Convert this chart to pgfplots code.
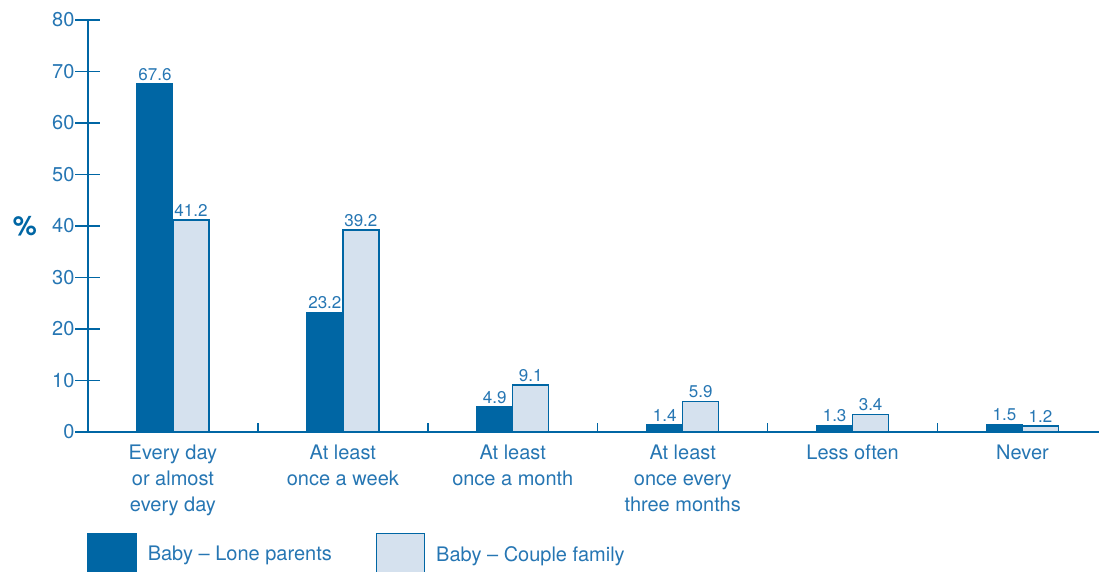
\documentclass[border=0pt]{standalone}
\usepackage{pgfplots}
\pgfplotsset{compat=1.18}
\usepackage{fontspec}
\setmainfont{TeX Gyre Heros}
\definecolor{dblue}{HTML}{0066A4}
\definecolor{lblue}{HTML}{D5E1EE}
\definecolor{tblue}{HTML}{2676B3}
\pgfplotsset{boxlegend/.style={legend image code/.code={\draw[##1, line width=0.7pt] (0pt,-13pt) rectangle (24pt,11pt);}}}
\begin{document}
\begin{tikzpicture}
\begin{axis}[
  at={(0,0)}, anchor=south west,
  scale only axis, width=505.5pt, height=206pt,
  xmin=-0.5, xmax=5.45, ymin=0, ymax=80,
  axis x line*=bottom, axis y line*=left,
  axis line style={draw=dblue, line width=1.25pt, -},
  /pgf/number format/assume math mode=true,
  ytick={0,10,...,80},
  ytick style={draw=dblue, line width=0.7pt},
  ytick align=center,
  major tick length=12.5pt,
  yticklabel style={font=\fontsize{10}{12}\selectfont, text=tblue, xshift=3pt},
  xtick={0,...,5},
  xtick style={draw=none},
  xticklabels={{Every day\\or almost\\every day},{At least\\once a week},{At least\\once a month},{At least\\once every\\three months},{Less often},{Never}},
  xticklabel style={font=\fontsize{10}{12.9}\selectfont, text=tblue, align=center, anchor=north, yshift=9.5pt},
  extra x ticks={0.5,1.5,2.5,3.5,4.5},
  extra x tick labels={},
  extra x tick style={xtick style={draw=dblue, line width=0.7pt}, major tick length=4.5pt, tick align=inside},
  ylabel={\%},
  ylabel style={rotate=-90, at={(axis description cs:0,0.5)}, anchor=center, xshift=-31.5pt, font=\bfseries\fontsize{13.5}{14}\selectfont, text=dblue},
  ybar=0pt, bar width=18pt,
  nodes near coords={\pgfmathprintnumber[fixed,fixed zerofill,precision=1,assume math mode=true]{\pgfplotspointmeta}},
  nodes near coords style={font=\fontsize{8.5}{10}\selectfont, text=tblue, inner sep=1.5pt},
  clip=false,
  legend columns=2,
  legend style={at={(-0.001,-0.243)}, anchor=north west, draw=none, fill=none, inner sep=0pt,
    font=\fontsize{10}{12}\selectfont, text=tblue,
    /tikz/every odd column/.append style={column sep=3.5pt},
    /tikz/every even column/.append style={column sep=20pt}},
  legend cell align=left,
]
\addplot[fill=dblue, draw=dblue, line width=0.5pt, boxlegend]
  coordinates {(0,67.6) (1,23.2) (2,4.9) (3,1.4) (4,1.3) (5,1.5)};
\addlegendentry{Baby -- Lone parents}
\addplot[fill=lblue, draw=dblue, line width=0.7pt, boxlegend]
  coordinates {(0,41.2) (1,39.2) (2,9.1) (3,5.9) (4,3.4) (5,1.2)};
\addlegendentry{Baby -- Couple family}
\end{axis}
\pgfresetboundingbox
\useasboundingbox (-44pt,-70pt) rectangle (505.5pt,216pt);
\end{tikzpicture}
\end{document}
